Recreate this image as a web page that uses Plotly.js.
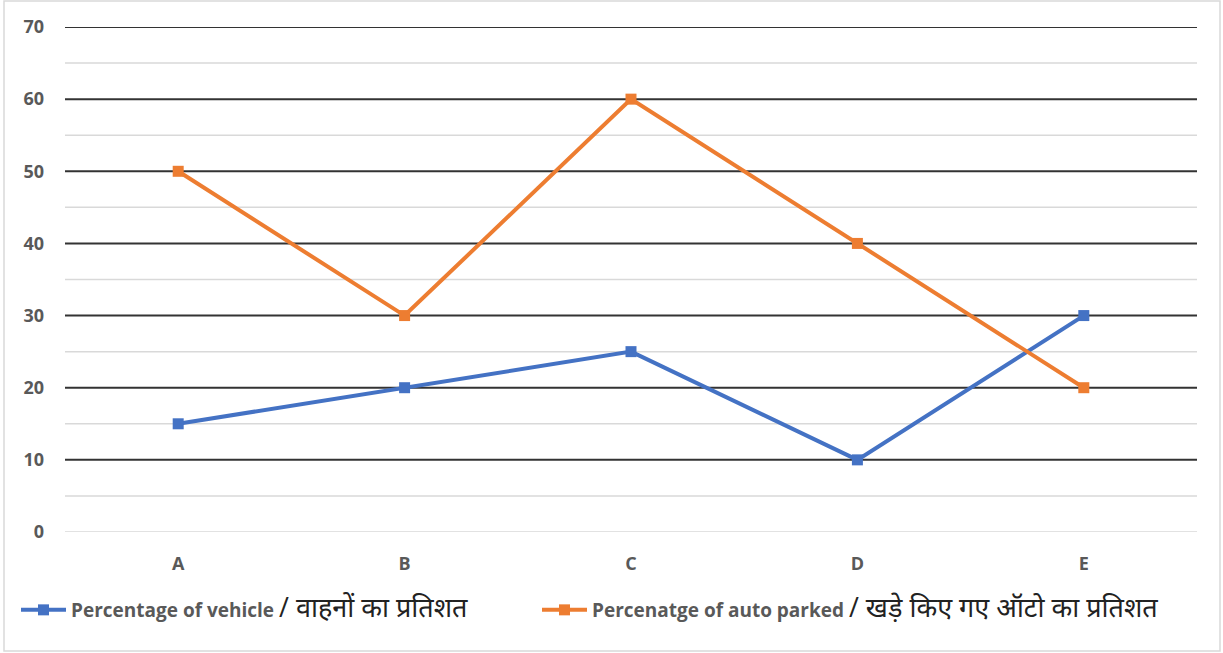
<!DOCTYPE html>
<html>
<head>
<meta charset="utf-8">
<script src="https://cdn.plot.ly/plotly-3.0.1.min.js"></script>
<style>html,body{margin:0;padding:0;background:#fff;}#chart{width:1223px;height:653px;}</style>
</head>
<body>
<div id="chart"></div>
<script>
const categories = ['A', 'B', 'C', 'D', 'E'];
const vehiclePct = [15, 20, 25, 10, 30];
const autoParkedPct = [50, 30, 60, 40, 20];
const seriesNames = [
  'Percentage of vehicle <span style="font-size:27px;font-weight:normal;color:#222">/ वाहनों का प्रतिशत</span>',
  'Percenatge of auto parked <span style="font-size:27px;font-weight:normal;color:#222">/ खड़े किए गए ऑटो का प्रतिशत</span>'
];
const yTicks = [0, 10, 20, 30, 40, 50, 60, 70];

const W = 1223, H = 653, L = 65, R = 26, T = 27, B = 121;
const pw = W - L - R, ph = H - T - B;
const px = x => (x - L) / pw;
const py = y => (H - B - y) / ph;

const traces = [
  {x: categories, y: vehiclePct, name: seriesNames[0], type: 'scatter', mode: 'lines+markers', legend: 'legend',
   line: {color: '#4472C4', width: 4}, marker: {symbol: 'square', size: 11, color: '#4472C4'}},
  {x: categories, y: autoParkedPct, name: seriesNames[1], type: 'scatter', mode: 'lines+markers', legend: 'legend2',
   line: {color: '#ED7D31', width: 4}, marker: {symbol: 'square', size: 11, color: '#ED7D31'}}
];

const shapes = [];
for (let v = 5; v < 70; v += 10) {
  shapes.push({type: 'line', xref: 'paper', yref: 'y', x0: 0, x1: 1, y0: v, y1: v, layer: 'below',
    line: {color: '#d9d9d9', width: 1.5}});
}
yTicks.forEach(v => {
  shapes.push({type: 'line', xref: 'paper', yref: 'y', x0: 0, x1: 1, y0: v, y1: v, layer: 'below',
    line: {color: v === 0 ? '#d9d9d9' : '#333333', width: v === 0 ? 1.5 : 2}});
});
shapes.push({type: 'rect', xref: 'paper', yref: 'paper', x0: px(4), x1: px(1220), y0: py(651), y1: py(1),
  line: {color: '#d9d9d9', width: 1.5}, fillcolor: 'rgba(0,0,0,0)'});

const legendFont = {size: 19, color: '#595959', weight: 'bold'};
const layout = {
  width: W, height: H,
  margin: {l: L, r: R, t: T, b: B},
  paper_bgcolor: '#fff', plot_bgcolor: '#fff',
  font: {family: 'Open Sans, Noto Sans, sans-serif', color: '#595959', size: 18, weight: 'bold'},
  xaxis: {type: 'category', range: [-0.5, 4.5], showgrid: false, zeroline: false, showline: false,
    ticks: '', ticklabelstandoff: 19, tickfont: {size: 18, color: '#595959', weight: 'bold'}, fixedrange: true},
  yaxis: {range: [0, 70], tickvals: yTicks, showgrid: false, zeroline: false, showline: false,
    ticks: '', ticklabelstandoff: 20, tickfont: {size: 18, color: '#595959', weight: 'bold'}, fixedrange: true},
  showlegend: true,
  legend: {orientation: 'h', x: px(16), y: py(610), xanchor: 'left', yanchor: 'middle',
    font: legendFont, itemwidth: 45, bgcolor: 'rgba(0,0,0,0)'},
  legend2: {orientation: 'h', x: px(537), y: py(610), xanchor: 'left', yanchor: 'middle',
    font: legendFont, itemwidth: 45, bgcolor: 'rgba(0,0,0,0)'},
  shapes: shapes
};

Plotly.newPlot('chart', traces, layout, {displayModeBar: false, staticPlot: true});
</script>
</body>
</html>
